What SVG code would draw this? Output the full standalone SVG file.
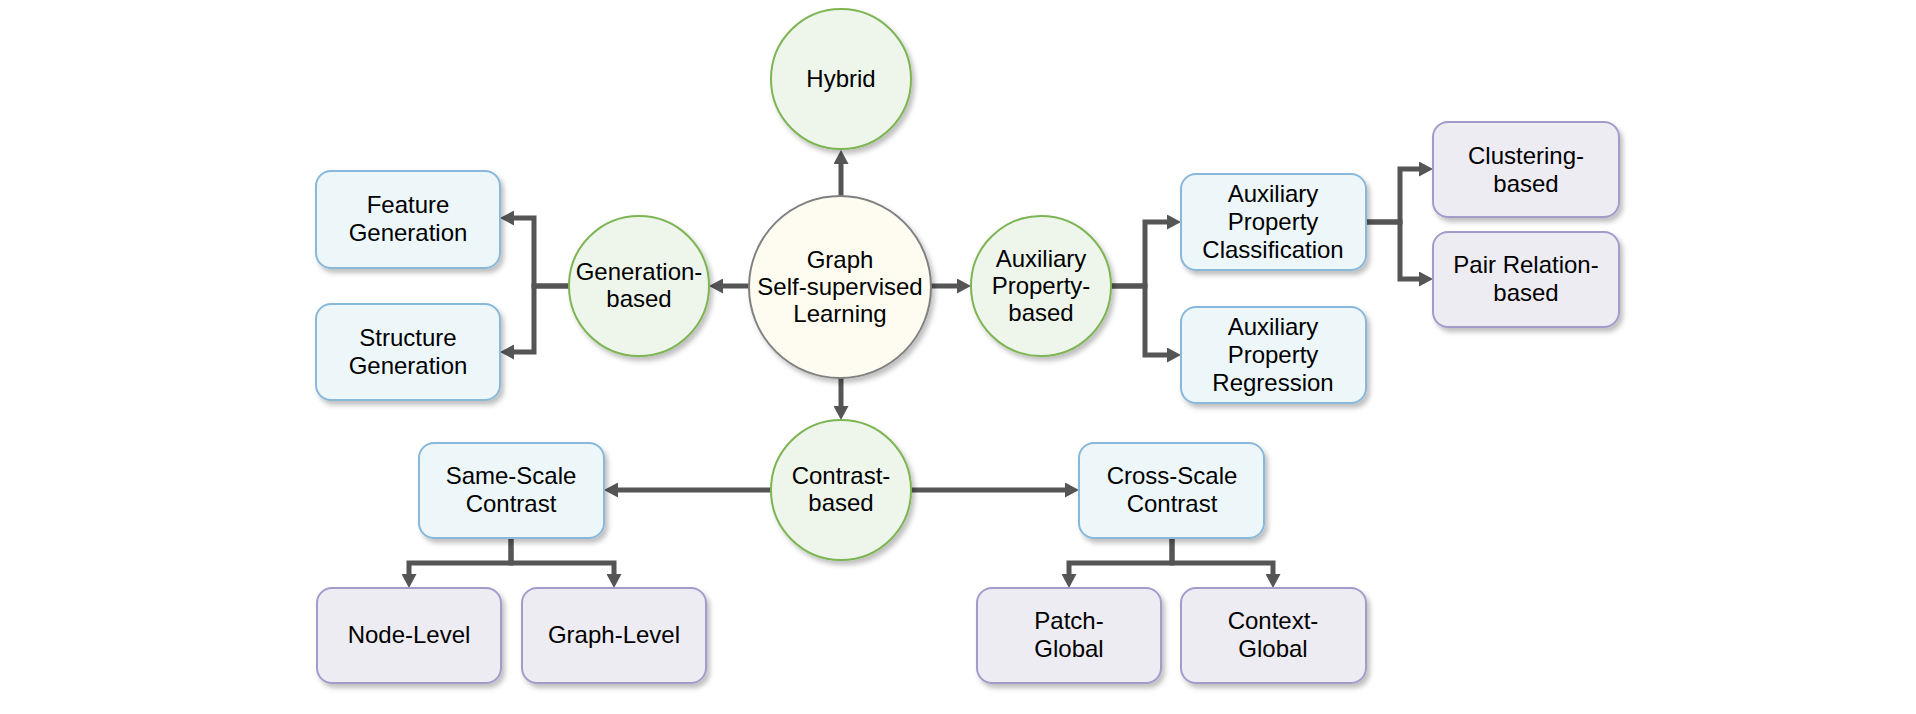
<svg xmlns="http://www.w3.org/2000/svg" width="1916" height="714" viewBox="0 0 1916 714">
<style>
  text { font-family: "Comic Sans MS", "Liberation Sans", Arial, sans-serif; font-size: 24px; fill: #000; text-anchor: middle; }
  .green { fill: #EEF6EC; stroke: #7DB554; stroke-width: 2; filter: url(#sh); }
  .center { fill: #FEFCF0; stroke: #808080; stroke-width: 2; filter: url(#sh); }
  .blue { fill: #EDF7FA; stroke: #88B8DA; stroke-width: 2; filter: url(#sh); }
  .purple { fill: #EDECF3; stroke: #A49BCB; stroke-width: 2; filter: url(#sh); }
  .conn path { fill: none; stroke: #555555; stroke-width: 5; stroke-linejoin: miter; marker-end: url(#arr); }
</style>
<defs>
  <filter id="sh" x="-15%" y="-15%" width="140%" height="140%">
    <feDropShadow dx="3" dy="4" stdDeviation="2.5" flood-color="#000" flood-opacity="0.25"/>
  </filter>
  <marker id="arr" markerUnits="userSpaceOnUse" markerWidth="15" markerHeight="15" refX="0" refY="7.5" orient="auto">
    <path d="M0,0 L14,7.5 L0,15 z" fill="#555555"/>
  </marker>
</defs>

<g id="connectors" class="conn">
  <path d="M841,196 V164"/>
  <path d="M749,286 H723"/>
  <path d="M931,286 H957"/>
  <path d="M841,378 V406"/>
  <path d="M569,286 H534 V218 H514"/>
  <path d="M569,286 H534 V352 H514"/>
  <path d="M1111,286 H1145 V222 H1167"/>
  <path d="M1111,286 H1145 V355 H1167"/>
  <path d="M1366,222 H1400 V169 H1419"/>
  <path d="M1366,222 H1400 V279 H1419"/>
  <path d="M771,490 H618"/>
  <path d="M911,490 H1065"/>
  <path d="M511,538 V563 H409 V574"/>
  <path d="M511,538 V563 H614 V574"/>
  <path d="M1172,538 V563 H1069 V574"/>
  <path d="M1172,538 V563 H1273 V574"/>
</g>

<g id="hybrid">
  <circle class="green" cx="841" cy="79" r="70"/>
  <text x="841" y="87">Hybrid</text>
</g>
<g id="graph-ssl">
  <circle class="center" cx="840" cy="287" r="91"/>
  <text x="840" y="268">Graph</text>
  <text x="840" y="295">Self-supervised</text>
  <text x="840" y="322">Learning</text>
</g>
<g id="generation-based">
  <circle class="green" cx="639" cy="286" r="70"/>
  <text x="639" y="280">Generation-</text>
  <text x="639" y="307">based</text>
</g>
<g id="auxiliary-property-based">
  <circle class="green" cx="1041" cy="286" r="70"/>
  <text x="1041" y="267">Auxiliary</text>
  <text x="1041" y="294">Property-</text>
  <text x="1041" y="321">based</text>
</g>
<g id="contrast-based">
  <circle class="green" cx="841" cy="490" r="70"/>
  <text x="841" y="484">Contrast-</text>
  <text x="841" y="511">based</text>
</g>

<g id="feature-generation">
  <rect class="blue" x="316" y="171" width="184" height="97" rx="15"/>
  <text x="408" y="213">Feature</text>
  <text x="408" y="241">Generation</text>
</g>
<g id="structure-generation">
  <rect class="blue" x="316" y="304" width="184" height="96" rx="15"/>
  <text x="408" y="346">Structure</text>
  <text x="408" y="374">Generation</text>
</g>
<g id="aux-prop-classification">
  <rect class="blue" x="1181" y="174" width="185" height="96" rx="15"/>
  <text x="1273" y="202">Auxiliary</text>
  <text x="1273" y="230">Property</text>
  <text x="1273" y="258">Classification</text>
</g>
<g id="aux-prop-regression">
  <rect class="blue" x="1181" y="307" width="185" height="96" rx="15"/>
  <text x="1273" y="335">Auxiliary</text>
  <text x="1273" y="363">Property</text>
  <text x="1273" y="391">Regression</text>
</g>
<g id="clustering-based">
  <rect class="purple" x="1433" y="122" width="186" height="95" rx="15"/>
  <text x="1526" y="164">Clustering-</text>
  <text x="1526" y="192">based</text>
</g>
<g id="pair-relation-based">
  <rect class="purple" x="1433" y="232" width="186" height="95" rx="15"/>
  <text x="1526" y="273">Pair Relation-</text>
  <text x="1526" y="301">based</text>
</g>
<g id="same-scale-contrast">
  <rect class="blue" x="419" y="443" width="185" height="95" rx="15"/>
  <text x="511" y="484">Same-Scale</text>
  <text x="511" y="512">Contrast</text>
</g>
<g id="cross-scale-contrast">
  <rect class="blue" x="1079" y="443" width="185" height="95" rx="15"/>
  <text x="1172" y="484">Cross-Scale</text>
  <text x="1172" y="512">Contrast</text>
</g>
<g id="node-level">
  <rect class="purple" x="317" y="588" width="184" height="95" rx="15"/>
  <text x="409" y="643">Node-Level</text>
</g>
<g id="graph-level">
  <rect class="purple" x="522" y="588" width="184" height="95" rx="15"/>
  <text x="614" y="643">Graph-Level</text>
</g>
<g id="patch-global">
  <rect class="purple" x="977" y="588" width="184" height="95" rx="15"/>
  <text x="1069" y="629">Patch-</text>
  <text x="1069" y="657">Global</text>
</g>
<g id="context-global">
  <rect class="purple" x="1181" y="588" width="185" height="95" rx="15"/>
  <text x="1273" y="629">Context-</text>
  <text x="1273" y="657">Global</text>
</g>
</svg>
